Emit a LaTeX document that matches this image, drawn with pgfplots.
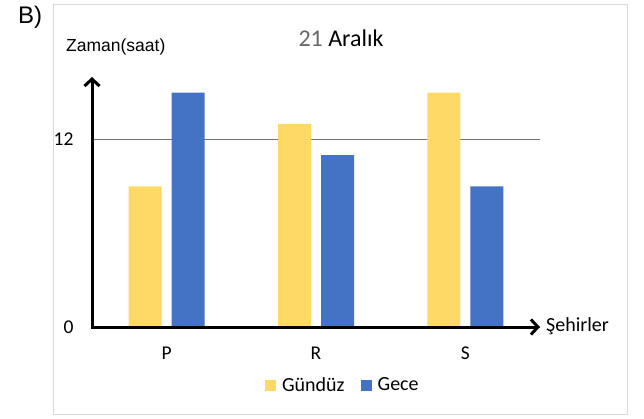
\documentclass[border=0pt]{standalone}
\usepackage{pgfplots}
\pgfplotsset{compat=1.18}
\usepackage{fontspec}
\setmainfont{Carlito}
\newfontfamily\arialf{Liberation Sans}
\usetikzlibrary{arrows.meta}
\definecolor{gyel}{HTML}{FFD966}
\definecolor{gblu}{HTML}{4472C4}
\begin{document}
\begin{tikzpicture}[x=1pt,y=1pt]
\path[use as bounding box] (0,0) rectangle (644,418);
\fill[white] (0,0) rectangle (644,418);
\draw[color=black!15, line width=1pt] (53,4) rectangle (627,413);
\node[font=\arialf\fontsize{24}{26}\selectfont] at (30,401) {B)};
\node[font=\fontsize{24}{28}\selectfont] at (341,380) {{\color{black!60}21} Aralık};
\node[anchor=west, font=\arialf\fontsize{17.5}{20}\selectfont, inner sep=0pt] at (66,371) {Zaman(saat)};
\node[anchor=west, font=\fontsize{20}{24}\selectfont, inner sep=0pt] at (546,92) {Şehirler};
\begin{axis}[
  at={(92pt,91pt)}, anchor=south west,
  scale only axis, width=448pt, height=250pt,
  xmin=-0.5, xmax=2.5, ymin=0, ymax=16,
  axis lines=left,
  axis line style={draw=none},
  xtick={0,1,2}, xticklabels={P,R,S},
  ytick={0,12},
  major tick length=0pt,
  ymajorgrids=true,
  grid style={line width=1pt, color=black!55},
  /pgf/number format/assume math mode=true,
  tick label style={font=\fontsize{19.5}{24}\selectfont},
  xticklabel style={yshift=-16pt},
  yticklabel style={xshift=-15pt},
  ybar=10pt, bar width=33pt,
  legend columns=2,
  legend style={draw=none, at={(0.56,-0.232)}, anchor=center, font=\fontsize{20}{24}\selectfont,
    /tikz/every odd column/.append style={column sep=4pt},
    /tikz/every even column/.append style={column sep=14pt}},
  legend image code/.code={\fill (0pt,-5.5pt) rectangle (11pt,5.5pt);},
  clip=false,
]
\addplot[fill=gyel, draw=none] coordinates {(0,9) (1,13) (2,15)};
\addplot[fill=gblu, draw=none] coordinates {(0,15) (1,11) (2,9)};
\legend{Gündüz, Gece}
\draw[line width=3pt, line cap=rect, -{Straight Barb[length=7pt, width=15pt, line width=3pt]}] (axis cs:-0.5,0) -- (axis cs:2.5,0);
\draw[line width=3pt, -{Straight Barb[length=7pt, width=15pt, line width=3pt]}] (axis cs:-0.5,0) -- (axis cs:-0.5,16);
\end{axis}
\end{tikzpicture}
\end{document}
